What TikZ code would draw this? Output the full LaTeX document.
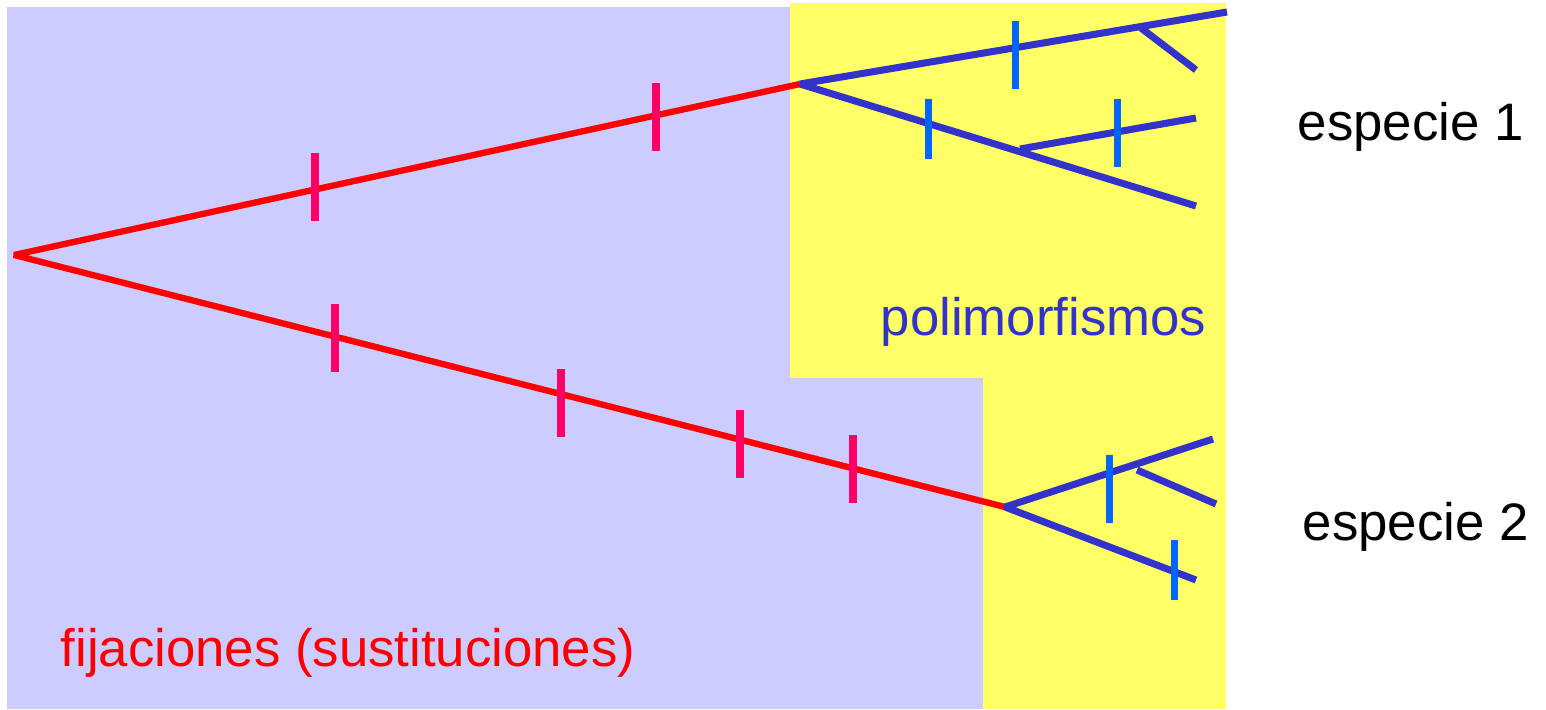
\documentclass[tikz,border=0pt]{standalone}
\usepackage{fontspec}
\setmainfont{Liberation Sans}
\usetikzlibrary{positioning}
\definecolor{lavanda}{RGB}{204,204,255}
\definecolor{amarillo}{RGB}{255,255,102}
\definecolor{azul}{RGB}{51,51,204}
\definecolor{celeste}{RGB}{0,102,255}
\definecolor{rosa}{RGB}{255,0,102}

\begin{document}
\begin{tikzpicture}[x=0.01cm, y=-0.01cm,
  fija/.style={draw=red, line width=1.8pt, line join=bevel},
  poli/.style={draw=azul, line width=2pt, line join=bevel},
  marca/.style={line width=2pt},
  etiqueta/.style={anchor=base west, inner sep=0pt, font=\fontsize{15}{18}\selectfont}
]
  \useasboundingbox (0,0) rectangle (1546,709);

  % fondos
  \fill[lavanda] (7,7) rectangle (983,709);
  \fill[amarillo] (790,3) rectangle (1226,378);
  \fill[amarillo] (983,378) rectangle (1226,709);

  % puntos del arbol
  \coordinate (raiz) at (14,255);
  \coordinate (sp1) at (800,84);
  \coordinate (sp2) at (1005,507);
  \coordinate (a1) at (1227,12);
  \coordinate (a1r) at (1141,28);
  \coordinate (a1h) at (1196,70);
  \coordinate (a2) at (1196,206);
  \coordinate (a2r) at (1020,149);
  \coordinate (a2h) at (1196,118);
  \coordinate (b1) at (1213,439);
  \coordinate (b1r) at (1137,470);
  \coordinate (b1h) at (1216,504);
  \coordinate (b2) at (1196,580);

  % fijaciones
  \draw[fija] (sp1) -- (raiz) -- (sp2);

  % polimorfismos
  \draw[poli] (a1) -- (sp1) -- (a2);
  \draw[poli] (a1r) -- (a1h);
  \draw[poli] (a2r) -- (a2h);
  \draw[poli] (b1) -- (sp2) -- (b2);
  \draw[poli] (b1r) -- (b1h);

  % mutaciones
  \foreach \x/\y in {315/187, 656/117, 335/338, 561/403, 740/444, 853/469}
    \draw[marca, rosa] (\x,\y-34) -- (\x,\y+34);
  \foreach \x/\y/\h in {1015/55/34, 928/129/30, 1117/133/34, 1109/489/34, 1174/570/30}
    \draw[marca, celeste] (\x,\y-\h) -- (\x,\y+\h);

  % textos
  \node[etiqueta] (esp1) at (1297,140) {especie 1};
  \node[etiqueta] (esp2) at (1302,540) {especie 2};
  \node[etiqueta, text=azul] (poly) at (880,335) {polimorfismos};
  \node[etiqueta, text=red] (fix) at (60,666) {fijaciones (sustituciones)};
\end{tikzpicture}
\end{document}
